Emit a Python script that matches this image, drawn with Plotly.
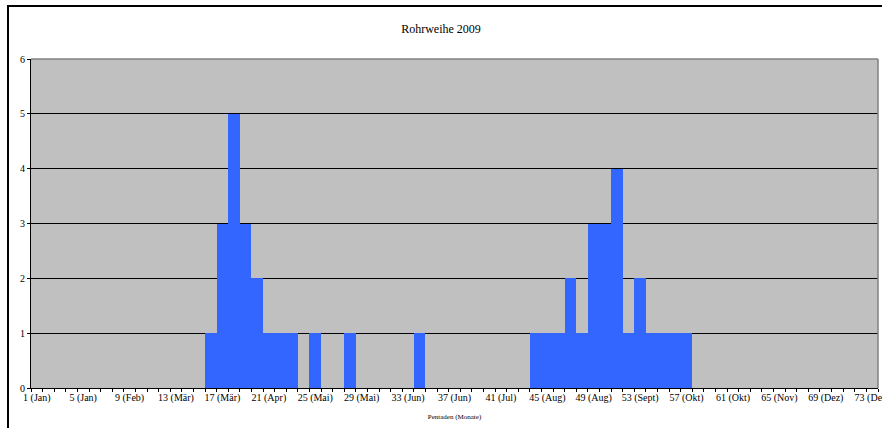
import plotly.graph_objects as go

pentaden = list(range(1, 74))
anzahl = [0, 0, 0, 0, 0, 0, 0, 0, 0, 0,
          0, 0, 0, 0, 0, 1, 3, 5, 3, 2,
          1, 1, 1, 0, 1, 0, 0, 1, 0, 0,
          0, 0, 0, 1, 0, 0, 0, 0, 0, 0,
          0, 0, 0, 1, 1, 1, 2, 1, 3, 3,
          4, 1, 2, 1, 1, 1, 1, 0, 0, 0,
          0, 0, 0, 0, 0, 0, 0, 0, 0, 0,
          0, 0, 0]
tick_pos = [1, 5, 9, 13, 17, 21, 25, 29, 33, 37, 41, 45, 49, 53, 57, 61, 65, 69, 73]
tick_text = ["1 (Jan)", "5 (Jan)", "9 (Feb)", "13 (Mär)", "17 (Mär)", "21 (Apr)",
             "25 (Mai)", "29 (Mai)", "33 (Jun)", "37 (Jun)", "41 (Jul)", "45 (Aug)",
             "49 (Aug)", "53 (Sept)", "57 (Okt)", "61 (Okt)", "65 (Nov)", "69 (Dez)",
             "73 (Dez)"]

W, H = 882, 428
L, R, T, B = 31, 4, 59, 40
pw, ph = W - L - R, H - T - B

fig = go.Figure(go.Bar(x=pentaden, y=anzahl, marker=dict(color="#3366FF", line=dict(width=0)),
                       width=1.0, hoverinfo="skip"))

font = "Liberation Serif, Times New Roman, serif"
fig.update_layout(
    width=W, height=H,
    margin=dict(l=L, r=R, t=T, b=B, autoexpand=False),
    paper_bgcolor="white", plot_bgcolor="#C0C0C0",
    bargap=0, showlegend=False,
    font=dict(family=font, color="black", size=10),
    title=dict(text="Rohrweihe 2009", x=0.5, xref="container", y=1 - 29 / H, yref="container",
               xanchor="center", yanchor="middle", font=dict(size=12, family=font)),
    xaxis=dict(range=[0.5, 73.5], tickmode="array", tickvals=tick_pos, ticktext=tick_text,
               ticks="", showgrid=False, zeroline=False, showline=True, linecolor="black",
               linewidth=1, tickangle=0, automargin=False, tickfont=dict(size=10),
               ticklabeloverflow="allow", fixedrange=True,
               minor=dict(ticks="outside", ticklen=3, tickcolor="black", tick0=0.5, dtick=1,
                          showgrid=False),
               title=dict(text="Pentaden (Monate)", font=dict(size=7), standoff=11)),
    yaxis=dict(range=[0, 6], tickvals=[0, 1, 2, 3, 4, 5, 6], ticks="outside", ticklen=3,
               tickcolor="black", showgrid=True, gridcolor="black", gridwidth=1,
               zeroline=False, showline=True, linecolor="black", linewidth=1,
               automargin=False, tickfont=dict(size=10), fixedrange=True),
)

# gray border on top and right of plot area
fig.add_shape(type="line", xref="paper", yref="paper", x0=0, x1=1, y0=1, y1=1,
              line=dict(color="#808080", width=1.5), layer="above")
fig.add_shape(type="line", xref="paper", yref="paper", x0=1, x1=1, y0=0, y1=1,
              line=dict(color="#808080", width=1.5), layer="above")
# outer chart border (extends beyond the visible window right and bottom)
fig.add_shape(type="rect", xref="paper", yref="paper",
              x0=(8 - L) / pw, x1=(W + 20 - L) / pw,
              y0=-(B + 20) / ph, y1=1 + (T - 6) / ph,
              line=dict(color="black", width=2), fillcolor="rgba(0,0,0,0)", layer="below")

fig.write_html("out.html", config={"displayModeBar": False, "staticPlot": True},
               post_script="document.body.style.margin='0';document.body.style.overflow='hidden';")
